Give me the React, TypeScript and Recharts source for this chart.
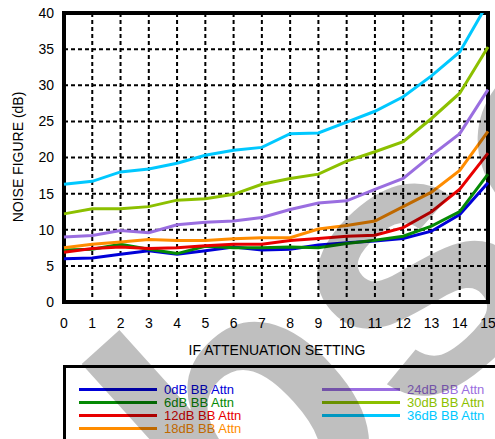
import { LineChart, Line, XAxis, YAxis, CartesianGrid, ReferenceArea } from "recharts";

const settings = [0, 1, 2, 3, 4, 5, 6, 7, 8, 9, 10, 11, 12, 13, 14, 15];
const nf0 = [6.0, 6.1, 6.6, 7.1, 6.6, 7.1, 7.6, 7.2, 7.3, 7.9, 8.2, 8.45, 8.8, 9.8, 12.1, 16.5];
const nf6 = [7.2, 7.3, 8.0, 7.3, 6.7, 7.7, 7.5, 7.5, 7.6, 7.5, 8.1, 8.55, 9.1, 10.5, 12.5, 17.7];
const nf12 = [6.9, 7.4, 7.6, 7.4, 7.5, 7.8, 8.0, 8.0, 8.5, 8.8, 9.1, 9.25, 10.3, 12.5, 15.6, 20.6];
const nf18 = [7.5, 8.0, 8.3, 8.65, 8.5, 8.5, 8.75, 8.9, 8.9, 10.1, 10.6, 11.2, 13.2, 15.2, 18.2, 23.6];
const nf24 = [9.0, 9.2, 9.9, 9.6, 10.7, 11.05, 11.2, 11.7, 12.8, 13.7, 14.0, 15.6, 17.1, 20.3, 23.3, 29.4];
const nf30 = [12.2, 12.9, 12.9, 13.2, 14.1, 14.3, 14.9, 16.3, 17.1, 17.7, 19.5, 20.8, 22.2, 25.4, 28.9, 35.3];
const nf36 = [16.3, 16.7, 18.0, 18.4, 19.2, 20.3, 21.0, 21.4, 23.3, 23.4, 24.9, 26.4, 28.4, 31.3, 34.6, 41.4];

const yTicks = [0, 5, 10, 15, 20, 25, 30, 35, 40];
const minorTicks = Array.from({ length: 41 }, (_, i) => i);

const series = [
  { key: "nf0", name: "0dB BB Attn", color: "#0000d8", values: nf0 },
  { key: "nf6", name: "6dB BB Attn", color: "#058a05", values: nf6 },
  { key: "nf12", name: "12dB BB Attn", color: "#e80000", values: nf12 },
  { key: "nf18", name: "18dB BB Attn", color: "#ff8c00", values: nf18 },
  { key: "nf24", name: "24dB BB Attn", color: "#9a6ee0", values: nf24 },
  { key: "nf30", name: "30dB BB Attn", color: "#8cc000", values: nf30 },
  { key: "nf36", name: "36dB BB Attn", color: "#00c8ff", values: nf36 },
];

const rows = settings.map((s, i) => {
  const row: Record<string, number> = { setting: s };
  series.forEach((sr) => (row[sr.key] = sr.values[i]));
  return row;
});

const font = "'Liberation Sans', Arial, sans-serif";

function LegendEntry({ name, color }: { name: string; color: string }) {
  return (
    <div style={{ display: "flex", alignItems: "center", height: 13 }}>
      <div style={{ width: 78, height: 3, background: color, marginRight: 7 }} />
      <span style={{ color, fontSize: 13, lineHeight: "13px" }}>{name}</span>
    </div>
  );
}

export default function App() {
  return (
    <div
      style={{
        position: "absolute",
        left: 0,
        top: 0,
        width: 495,
        height: 439,
        overflow: "hidden",
        background: "#fff",
        fontFamily: font,
      }}
    >
      <LineChart
        width={495}
        height={439}
        data={rows}
        margin={{ top: 13, right: 7, left: 24, bottom: 107 }}
      >
        <CartesianGrid stroke="#000" strokeWidth={2} strokeDasharray="4 3" />
        <XAxis
          dataKey="setting"
          type="number"
          domain={[0, 15]}
          ticks={settings}
          interval={0}
          height={30}
          axisLine={false}
          tickLine={false}
          tickSize={14}
          tickMargin={2}
          tick={{ fill: "#000", fontSize: 14, fontFamily: font }}
        />
        <YAxis
          type="number"
          domain={[0, 40]}
          ticks={yTicks}
          allowDataOverflow
          width={40}
          axisLine={false}
          tickLine={false}
          tickSize={8}
          tickMargin={2}
          tick={{ fill: "#000", fontSize: 14, fontFamily: font }}
        />
        {/* 1 dB minor ticks on both sides of the frame */}
        <YAxis
          yAxisId="minorLeft"
          orientation="left"
          mirror
          type="number"
          domain={[0, 40]}
          ticks={minorTicks}
          axisLine={false}
          tickSize={4}
          tickLine={{ stroke: "#000", strokeWidth: 2 }}
          tickFormatter={() => ""}
        />
        <YAxis
          yAxisId="minorRight"
          orientation="right"
          mirror
          type="number"
          domain={[0, 40]}
          ticks={minorTicks}
          axisLine={false}
          tickSize={4}
          tickLine={{ stroke: "#000", strokeWidth: 2 }}
          tickFormatter={() => ""}
        />
        {series.map((sr) => (
          <Line
            key={sr.key}
            dataKey={sr.key}
            stroke={sr.color}
            strokeWidth={3}
            dot={false}
            isAnimationActive={false}
          />
        ))}
        <ReferenceArea x1={0} x2={15} y1={0} y2={40} fill="none" stroke="#000" strokeWidth={4} />
      </LineChart>

      {/* axis titles */}
      <div
        style={{
          position: "absolute",
          left: 18,
          top: 157,
          transform: "translate(-50%, -50%) rotate(-90deg)",
          whiteSpace: "nowrap",
          fontSize: 14,
          color: "#000",
        }}
      >
        NOISE FIGURE (dB)
      </div>
      <div
        style={{
          position: "absolute",
          left: 277,
          top: 350,
          transform: "translate(-50%, -50%)",
          whiteSpace: "nowrap",
          fontSize: 14,
          color: "#000",
        }}
      >
        IF ATTENUATION SETTING
      </div>

      {/* legend box */}
      <div
        style={{
          position: "absolute",
          left: 63,
          top: 365,
          width: 460,
          height: 100,
          border: "3px solid #000",
          boxSizing: "border-box",
        }}
      >
        <div style={{ position: "absolute", left: 13, top: 15 }}>
          {series.slice(0, 4).map((sr) => (
            <LegendEntry key={sr.key} name={sr.name} color={sr.color} />
          ))}
        </div>
        <div style={{ position: "absolute", left: 256, top: 15 }}>
          {series.slice(4).map((sr) => (
            <LegendEntry key={sr.key} name={sr.name} color={sr.color} />
          ))}
        </div>
      </div>

      {/* watermark */}
      <svg
        width={495}
        height={439}
        style={{ position: "absolute", left: 0, top: 0, pointerEvents: "none" }}
      >
        <text
          x={0}
          y={0}
          transform="translate(28 773) rotate(-42)"
          fontFamily={font}
          fontWeight="bold"
          fontSize={370}
          fill="#000"
          fillOpacity={0.25}
        >
          Obsolete
        </text>
      </svg>
    </div>
  );
}
